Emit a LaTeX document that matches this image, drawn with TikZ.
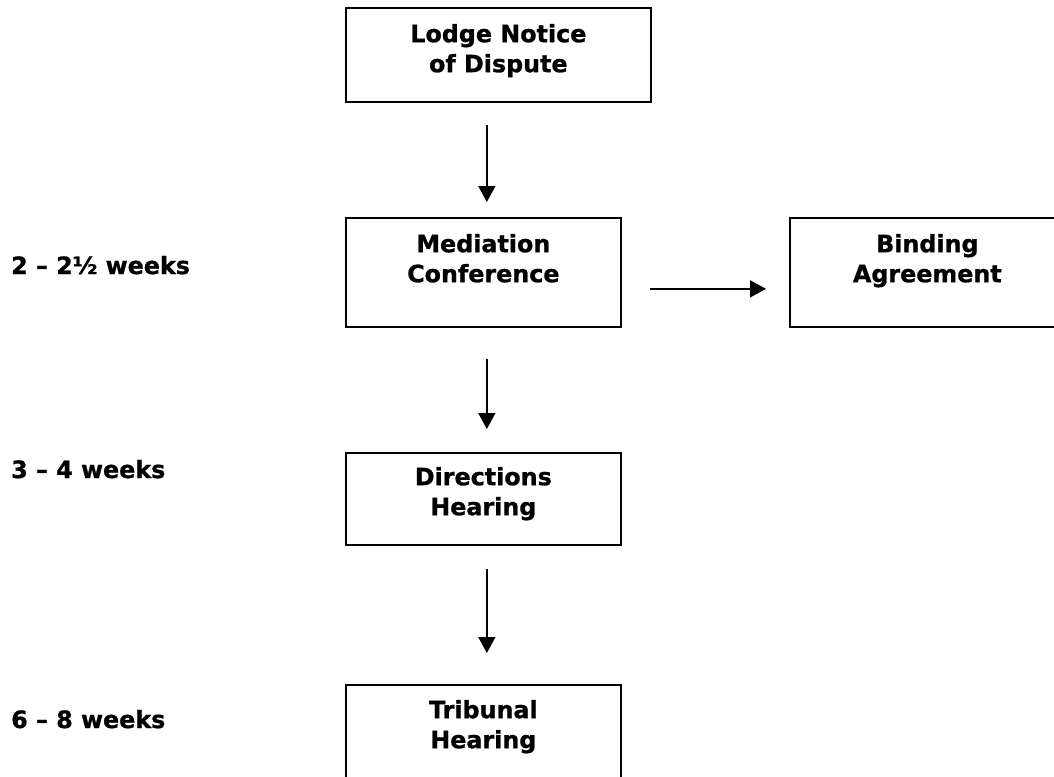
\documentclass[tikz,border=0pt]{standalone}
\usepackage{fontspec}
\setmainfont{DejaVu Sans}[BoldFeatures={FakeBold=1}]
\usetikzlibrary{arrows.meta}
\tikzset{
  box/.style={draw, line width=1.7pt, inner sep=0pt, anchor=north west},
  txt/.style={font=\bfseries\fontsize{23.8}{30}\selectfont, align=center, inner sep=0pt, anchor=north},
  lab/.style={font=\bfseries\fontsize{23.8}{30}\selectfont, inner sep=0pt, anchor=base west},
  arr/.style={line width=1.7pt, -{Triangle[width=17pt,length=16pt]}}
}
\begin{document}
\begin{tikzpicture}[x=1pt,y=-1pt]
\useasboundingbox (0,0) rectangle (1054,776);
\clip (0,0) rectangle (1054,776);
\node[box, minimum width=305pt, minimum height=94pt] (b1) at (345,7) {};
\node[box, minimum width=275pt, minimum height=109pt] (b2) at (345,217) {};
\node[box, minimum width=275pt, minimum height=109pt] (b5) at (789,217) {};
\node[box, minimum width=275pt, minimum height=92pt] (b3) at (345,452) {};
\node[box, minimum width=275pt, minimum height=109pt] (b4) at (345,684) {};

\node[txt, yshift=-16.9pt] (t1) at (b1.north) {Lodge Notice\\of Dispute};
\node[txt, yshift=-16.9pt] (t2) at (b2.north) {Mediation\\Conference};
\node[txt, yshift=-16.9pt] (t5) at (b5.north) {Binding\\Agreement};
\node[txt, yshift=-14.9pt] (t3) at (b3.north) {Directions\\Hearing};
\node[txt, yshift=-15.9pt] (t4) at (b4.north) {Tribunal\\Hearing};

\node[lab] (w1) at (11,274) {2 – 2½ weeks};
\node[lab] (w2) at (11,478) {3 – 4 weeks};
\node[lab] (w3) at (11,728) {6 – 8 weeks};

\draw[arr] ([xshift=-11.5pt,yshift=-22pt]b1.south) -- ([xshift=3.5pt,yshift=15pt]b2.north);
\draw[arr] ([xshift=3.5pt,yshift=-31pt]b2.south) -- ([xshift=3.5pt,yshift=23pt]b3.north);
\draw[arr] ([xshift=3.5pt,yshift=-23pt]b3.south) -- ([xshift=3.5pt,yshift=31pt]b4.north);
\draw[arr] ([xshift=28pt,yshift=-16.5pt]b2.east) -- ([xshift=-23pt,yshift=-16.5pt]b5.west);
\end{tikzpicture}
\end{document}
